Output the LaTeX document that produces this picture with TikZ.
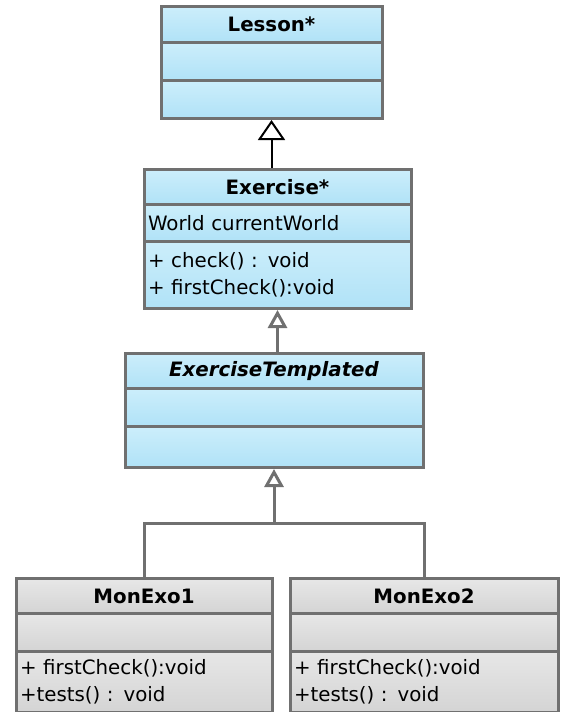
\documentclass[tikz,border=0pt]{standalone}
\usepackage{fontspec}
\setmainfont{DejaVu Sans}
\usetikzlibrary{arrows.meta}
\definecolor{boxline}{RGB}{112,112,112}
\definecolor{bluetop}{RGB}{204,238,251}
\definecolor{bluebot}{RGB}{176,226,247}
\definecolor{greytop}{RGB}{231,231,231}
\definecolor{greybot}{RGB}{212,212,212}
\tikzset{
    part/.style={draw=boxline, line width=3pt, anchor=north, inner xsep=4pt, inner ysep=0pt,
        font=\fontsize{19.8}{26.5}\selectfont},
    bluepart/.style={part, top color=bluetop, bottom color=bluebot},
    greypart/.style={part, top color=greytop, bottom color=greybot},
    gen/.style={draw=boxline, line width=3pt, -{Triangle[open, length=18pt, width=19pt]}},
    link/.style={draw=boxline, line width=3pt},
}
\begin{document}
\begin{tikzpicture}[x=1pt, y=-1pt]
    \useasboundingbox (0, 0) rectangle (560, 712);

    % Lesson
    \node[bluepart, minimum width=221pt, minimum height=36pt] (lesson-head) at (271.5, 5) {\bfseries Lesson*};
    \node[bluepart, minimum width=221pt, minimum height=38pt] (lesson-attr) at (271.5, 41) {};
    \node[bluepart, minimum width=221pt, minimum height=38pt] (lesson-ops) at (271.5, 79) {};

    % Exercise
    \node[bluepart, minimum width=267pt, minimum height=35pt] (ex-head) at (277.5, 168) {\bfseries Exercise*};
    \node[bluepart, minimum width=267pt, minimum height=37pt, text width=259pt, align=left] (ex-attr) at (277.5, 203) {World currentWorld};
    \node[bluepart, minimum width=267pt, minimum height=67pt, text width=259pt, align=left] (ex-ops) at (277.5, 240)
        {\raisebox{2pt}{+ check() : void}\\\raisebox{2pt}{+ firstCheck():void}};

    % ExerciseTemplated
    \node[bluepart, minimum width=298pt, minimum height=35pt] (tmpl-head) at (274, 352) {\bfseries\itshape ExerciseTemplated};
    \node[bluepart, minimum width=298pt, minimum height=38pt] (tmpl-attr) at (274, 387) {};
    \node[bluepart, minimum width=298pt, minimum height=41pt] (tmpl-ops) at (274, 425) {};

    % MonExo1 and MonExo2
    \node[greypart, minimum width=256pt, minimum height=35pt] (exo1-head) at (144, 577) {\bfseries MonExo1};
    \node[greypart, minimum width=256pt, minimum height=38pt] (exo1-attr) at (144, 612) {};
    \node[greypart, minimum width=256pt, minimum height=61pt, text width=248pt, align=left] (exo1-ops) at (144, 650)
        {+ firstCheck():void\\+tests() : void};

    \node[greypart, minimum width=268pt, minimum height=35pt] (exo2-head) at (424, 577) {\bfseries MonExo2};
    \node[greypart, minimum width=268pt, minimum height=38pt] (exo2-attr) at (424, 612) {};
    \node[greypart, minimum width=268pt, minimum height=61pt, text width=260pt, align=left] (exo2-ops) at (424, 650)
        {+ firstCheck():void\\+tests() : void};

    % inheritance
    \draw[gen, draw=black, line width=2pt, -{Triangle[open, length=20pt, width=27pt]}]
        (lesson-ops.south |- ex-head.north) -- (lesson-ops.south);
    \draw[gen] (ex-ops.south |- tmpl-head.north) -- (ex-ops.south);
    \coordinate (fork) at (274, 523);
    \draw[gen] (fork) -- (tmpl-ops.south);
    \draw[link] (exo1-head.north) |- (fork) -| (exo2-head.north);
\end{tikzpicture}
\end{document}
